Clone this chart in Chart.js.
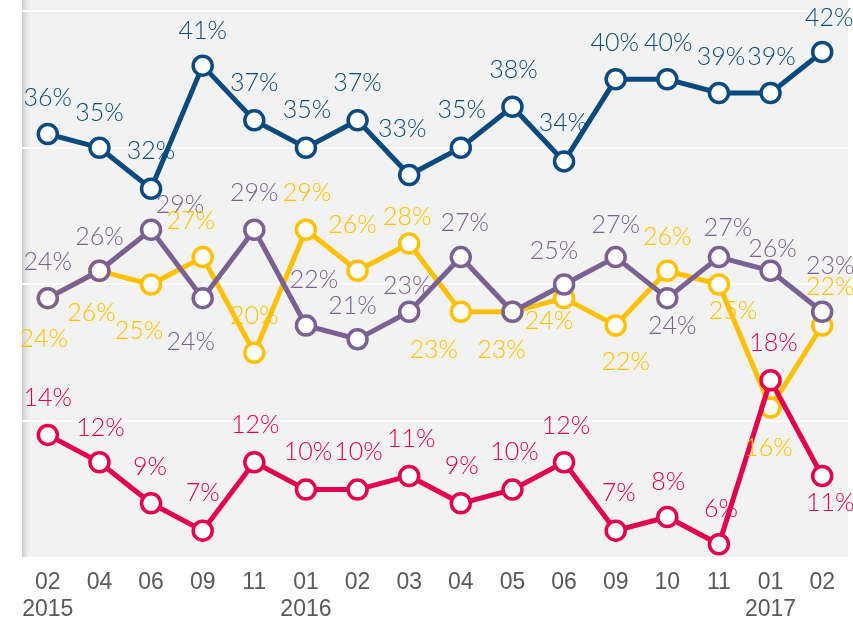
<!DOCTYPE html>
<html>
<head>
<meta charset="utf-8">
<script src="https://cdn.jsdelivr.net/npm/chart.js@4/dist/chart.umd.min.js"></script>
<style>
html,body{margin:0;padding:0;background:#fff;}
#wrap{width:853px;height:620px;}
</style>
</head>
<body>
<div id="wrap"><canvas id="c" width="853" height="620"></canvas></div>
<script>
// ---- data ----
const months = ["02","04","06","09","11","01","02","03","04","05","06","09","10","11","01","02"];
const years  = ["2015","","","","","2016","","","","","","","","","2017",""];
const blueValues   = [36,35,32,41,37,35,37,33,35,38,34,40,40,39,39,42];
const yellowValues = [24,26,25,27,20,29,26,28,23,23,24,22,26,25,16,22];
const purpleValues = [24,26,29,24,29,22,21,23,27,23,25,27,24,27,26,23];
const redValues    = [14,12,9,7,12,10,10,11,9,10,12,7,8,6,18,11];
const yTicks = [5,15,25,35,45];

// ---- label placement (style only: pixel offsets from the point) ----
const blueLabelOffsets = [[0,-36],[0,-35],[0,-38],[0,-35],[0,-37],[1,-38],[0,-37],[-7,-46],[1,-38],[1,-37],[-1,-38],[-1,-36],[1,-36],[2,-36],[1,-36],[7,-34]];
const purpleLabelOffsets = [[0,-36],[0,-34],[29,-25],[-12,44],[0,-37],[8,-46],[-5,-33],[-2,-26],[4,-34],null,[-10,-34],[0,-32],[5,28],[9,-29],[2,-22],[8,-46]];
const yellowLabelOffsets = [[-4,41],[-8,42],[-12,46],[-12,-36],[0,-37],[1,-37],[-5,-46],[-2,-27],[-27,38],[-11,38],[-15,23],[10,36],[0,-34],[14,26],[-2,40],[8,-39]];
const redLabelOffsets = [[0,-37],[1,-34],[-1,-36],[0,-38],[1,-37],[2,-38],[1,-38],[2,-37],[1,-37],[2,-38],[2,-36],[3,-38],[1,-35],[2,-35],[3,-37],[8,27]];

const BLUE = "#0b4a7e", PURPLE = "#7a6191", YELLOW = "#ffc000", RED = "#e1004c";

const labels = months.map((m,i)=> years[i] ? [m, years[i]] : m);

function ds(data, color, order, offs){
  return {
    data, borderColor: color, backgroundColor: color,
    borderWidth: 5, pointRadius: 9.5, pointHoverRadius: 9.5,
    pointBackgroundColor: "#ffffff", pointBorderColor: color, pointBorderWidth: 3.5,
    tension: 0, order, labelOffsets: offs, labelColor: color
  };
}

const bgPlugin = {
  id: "bg",
  beforeDraw(chart){
    const {ctx, chartArea:a} = chart;
    ctx.save();
    ctx.fillStyle = "#f2f2f2";
    ctx.fillRect(a.left, 0, a.right - a.left, a.bottom);
    const g = ctx.createLinearGradient(a.left, 0, a.left + 10, 0);
    g.addColorStop(0, "#c9c9c9");
    g.addColorStop(1, "rgba(242,242,242,0)");
    ctx.fillStyle = g;
    ctx.fillRect(a.left, 0, 10, a.bottom);
    ctx.restore();
  }
};

const labelPlugin = {
  id: "vlabels",
  afterDatasetsDraw(chart){
    const ctx = chart.ctx;
    ctx.save();
    ctx.font = "300 25px Lato, 'Open Sans', sans-serif";
    ctx.textAlign = "center";
    ctx.textBaseline = "middle";
    chart.data.datasets.forEach((d, di) => {
      const meta = chart.getDatasetMeta(di);
      meta.data.forEach((pt, i) => {
        const off = d.labelOffsets[i];
        if (!off) return;
        ctx.fillStyle = d.labelColor;
        ctx.fillText(d.data[i] + "%", pt.x + off[0], pt.y + off[1]);
      });
    });
    ctx.restore();
  }
};

new Chart(document.getElementById("c"), {
  type: "line",
  data: {
    labels,
    datasets: [
      ds(redValues, RED, 0, redLabelOffsets),
      ds(purpleValues, PURPLE, 1, purpleLabelOffsets),
      ds(blueValues, BLUE, 2, blueLabelOffsets),
      ds(yellowValues, YELLOW, 3, yellowLabelOffsets)
    ]
  },
  options: {
    responsive: false,
    animation: false,
    layout: { autoPadding: false, padding: { left: 22, right: 5, top: 0, bottom: 0 } },
    plugins: { legend: { display: false }, tooltip: { enabled: false } },
    scales: {
      x: {
        offset: true,
        grid: { display: false, drawTicks: false },
        border: { display: false },
        ticks: {
          color: "#595959",
          font: { family: "'Liberation Sans', Arial, sans-serif", size: 23, lineHeight: 1.17 },
          padding: 11, maxRotation: 0, autoSkip: false
        },
        afterFit(s){ s.height = 62; }
      },
      y: {
        min: 5, max: 45.8,
        afterBuildTicks(s){ s.ticks = yTicks.map(v => ({ value: v })); },
        grid: { color: "#ffffff", lineWidth: 2, drawTicks: false },
        border: { display: false },
        ticks: { display: false },
        afterFit(s){ s.width = 0; }
      }
    }
  },
  plugins: [bgPlugin, labelPlugin]
});
</script>
</body>
</html>
